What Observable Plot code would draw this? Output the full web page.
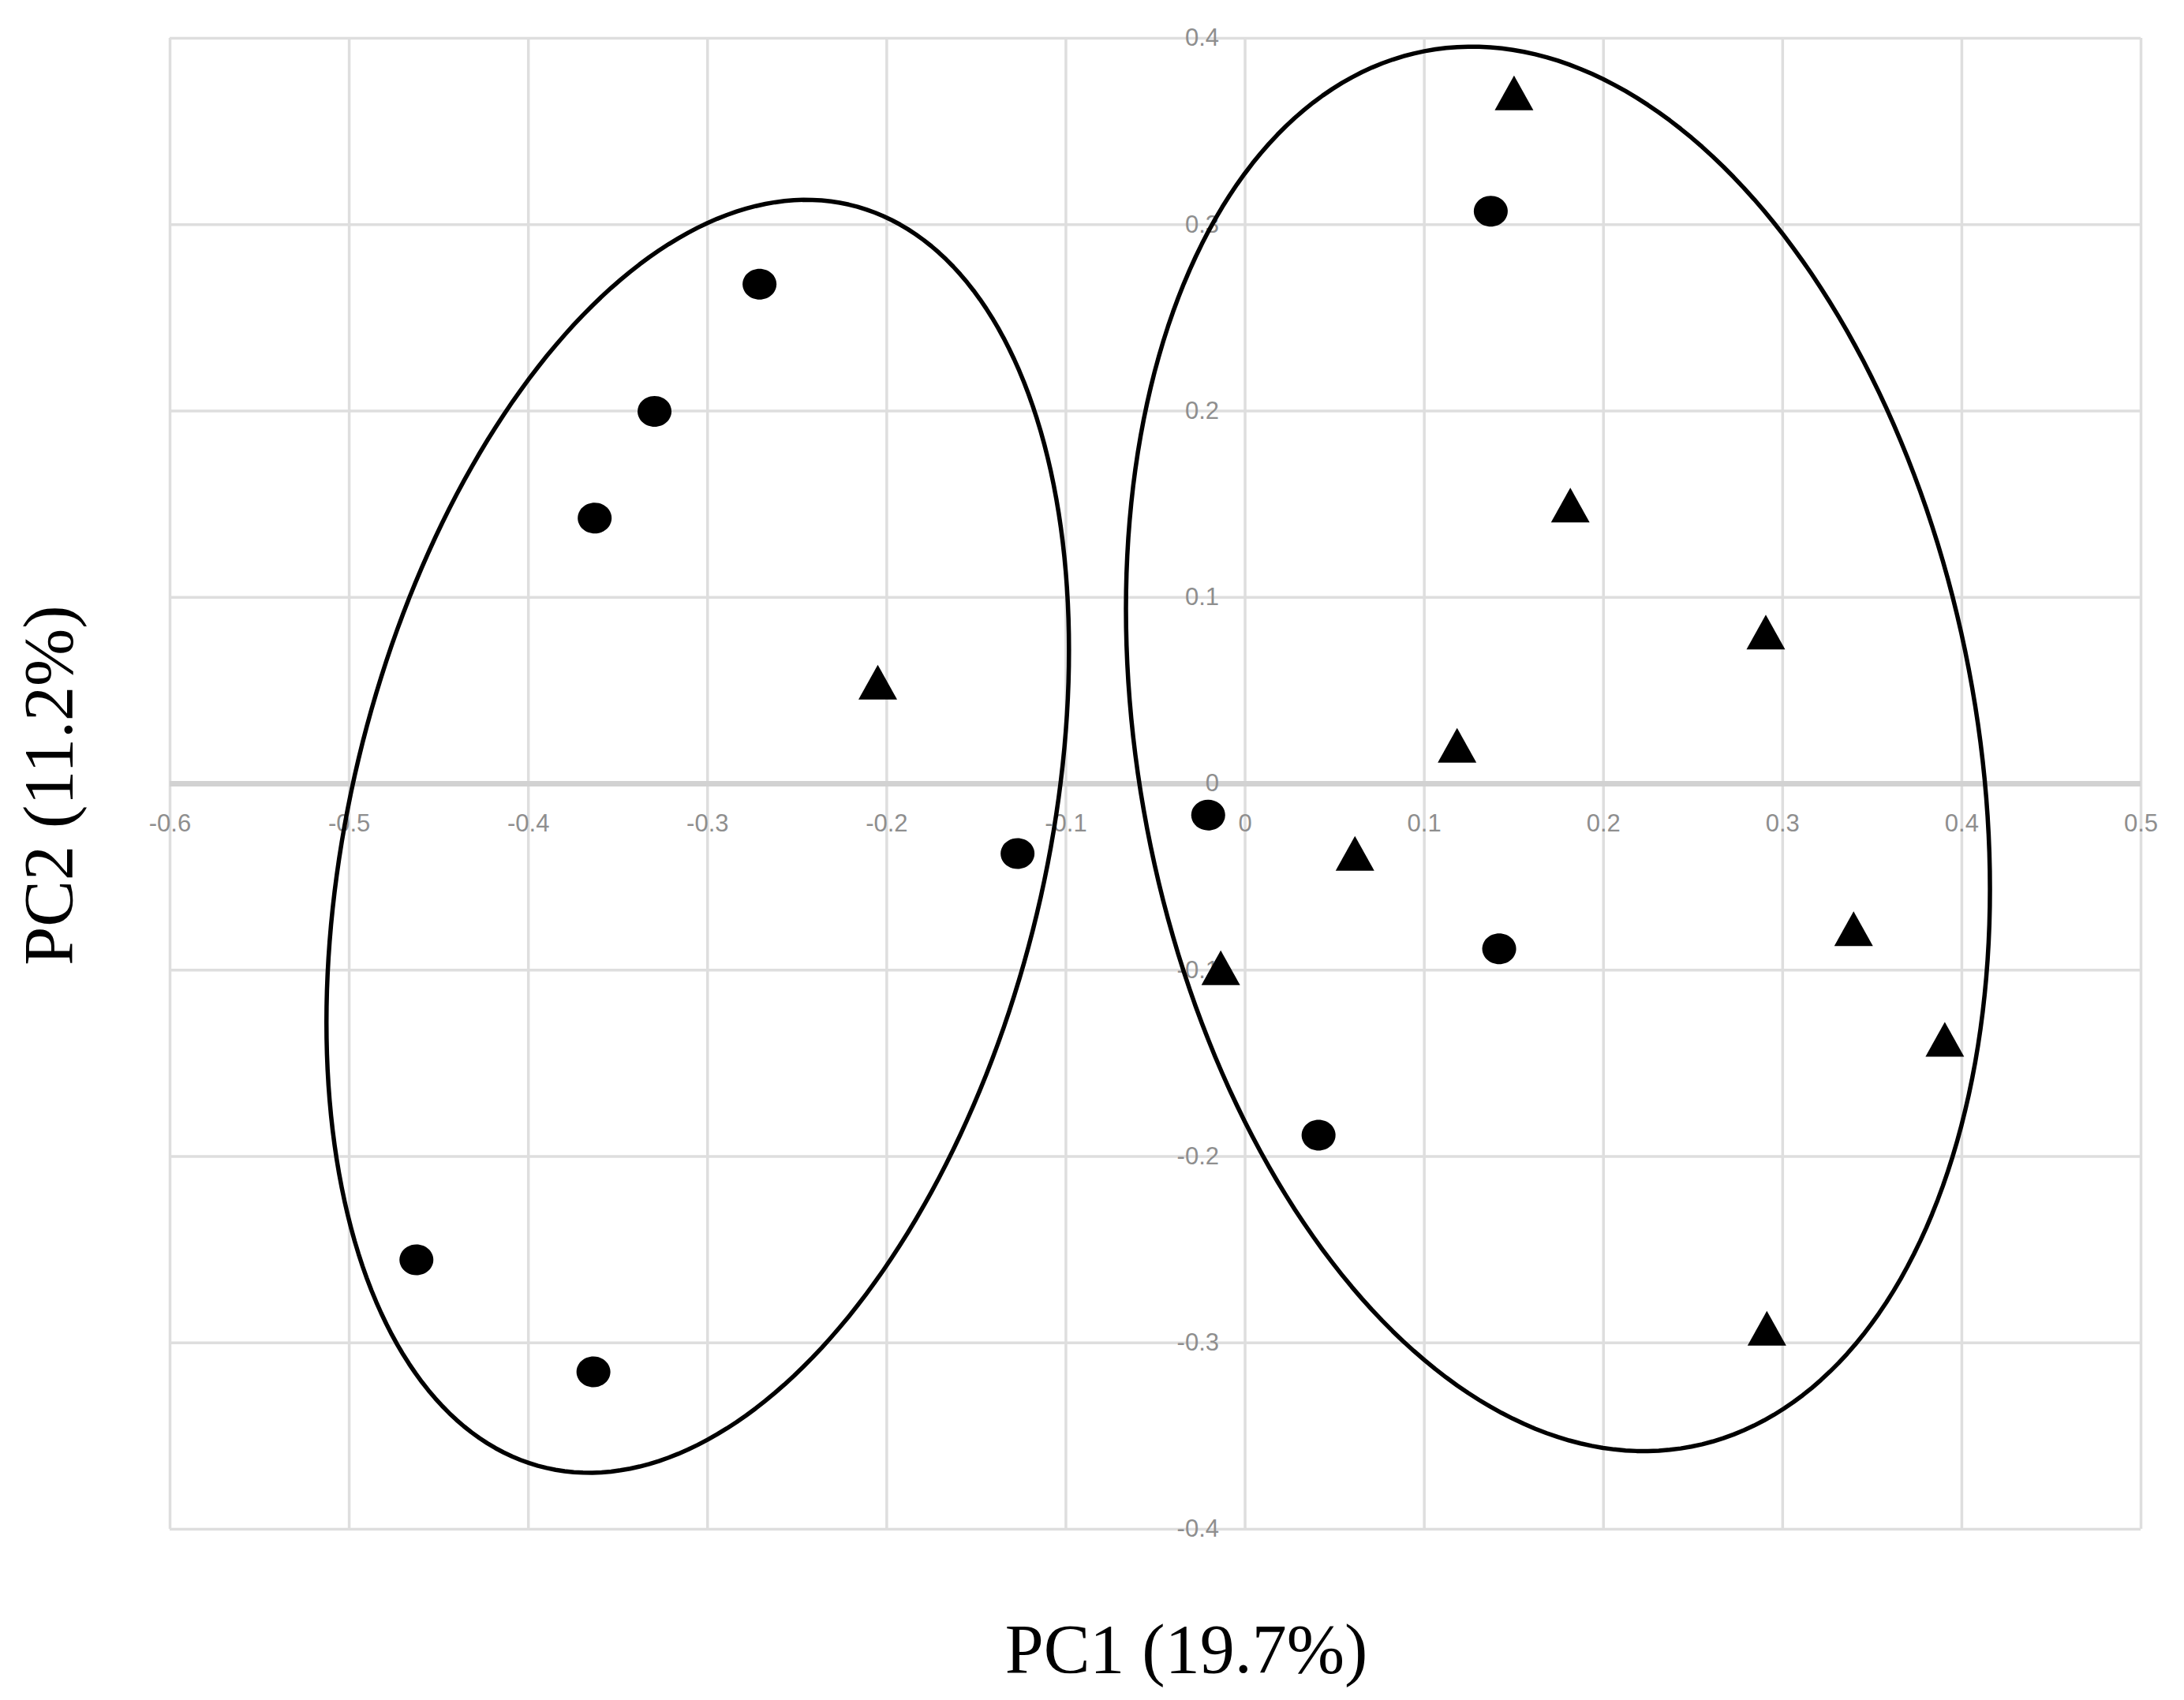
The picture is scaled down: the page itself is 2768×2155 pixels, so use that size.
<!DOCTYPE html>
<html>
<head>
<meta charset="utf-8">
<script src="https://cdn.jsdelivr.net/npm/d3@7"></script>
<script src="https://cdn.jsdelivr.net/npm/@observablehq/plot@0.6"></script>
<style>
  html, body { margin: 0; padding: 0; background: #ffffff; }
  #chart svg { display: block; }
</style>
</head>
<body>
<div id="chart"></div>
<script>
// ---- Data ----
const circleX = [-0.271, -0.3296, -0.363, -0.127, -0.4625, -0.3637, 0.1371, -0.0206, 0.1418, 0.041];
const circleY = [0.268, 0.1998, 0.1425, -0.0375, -0.2555, -0.3156, 0.3072, -0.0168, -0.0886, -0.1886];

const triangleX = [-0.205, 0.1501, 0.1815, 0.2906, 0.1183, 0.0613, -0.0136, 0.3396, 0.3905, 0.2912];
const triangleY = [0.0545, 0.3707, 0.1495, 0.0814, 0.0206, -0.0374, -0.0987, -0.0778, -0.1371, -0.2922];

// Group ellipses: centre, half-width, half-height, correlation (tilt)
const ellipseNames = ["left", "right"];
const ellipseCx = [-0.3055, 0.1746];
const ellipseCy = [-0.0282, 0.0187];
const ellipseRx = [0.2072, 0.2411];
const ellipseRy = [0.3415, 0.3768];
const ellipseRho = [0.2926, -0.1992];

const xTicks = [-0.6, -0.5, -0.4, -0.3, -0.2, -0.1, 0, 0.1, 0.2, 0.3, 0.4, 0.5];
const yTicks = [-0.4, -0.3, -0.2, -0.1, 0, 0.1, 0.2, 0.3, 0.4];
const xTitle = "PC1 (19.7%)";
const yTitle = "PC2 (11.2%)";

// ---- Derived tables ----
const circles = circleX.map((x, i) => ({x, y: circleY[i]}));
const triangles = triangleX.map((x, i) => ({x, y: triangleY[i]}));

const ellipsePts = [];
ellipseNames.forEach((name, k) => {
  const n = 240;
  const s = Math.sqrt(1 - ellipseRho[k] ** 2);
  for (let i = 0; i < n; i++) {
    const t = (2 * Math.PI * i) / n;
    ellipsePts.push({
      group: name,
      x: ellipseCx[k] + ellipseRx[k] * Math.cos(t),
      y: ellipseCy[k] + ellipseRy[k] * (ellipseRho[k] * Math.cos(t) + s * Math.sin(t))
    });
  }
});

// Custom marker shapes (slightly oval dot, triangle centred on its box)
const ovalSymbol = {
  draw(ctx, size) {
    const r = Math.sqrt(size / Math.PI);
    const rx = r * 1.075, ry = r * 0.975, k = 0.5523;
    ctx.moveTo(rx, 0);
    ctx.bezierCurveTo(rx, ry * k, rx * k, ry, 0, ry);
    ctx.bezierCurveTo(-rx * k, ry, -rx, ry * k, -rx, 0);
    ctx.bezierCurveTo(-rx, -ry * k, -rx * k, -ry, 0, -ry);
    ctx.bezierCurveTo(rx * k, -ry, rx, -ry * k, rx, 0);
    ctx.closePath();
  }
};
const triSymbol = {
  draw(ctx, size) {
    const r = Math.sqrt(size / Math.PI);
    const w = r * 2.45, h = r * 2.2;
    ctx.moveTo(0, -h / 2);
    ctx.lineTo(w / 2, h / 2);
    ctx.lineTo(-w / 2, h / 2);
    ctx.closePath();
  }
};

const tickFont = "'Liberation Sans', Arial, sans-serif";
const titleFont = "'Liberation Serif', 'Times New Roman', serif";
const tickColor = "#8e8e8e";
const gridColor = "#dedede";

const fmt = d => String(d);

const chart = Plot.plot({
  width: 2768,
  height: 2155,
  marginLeft: 215,
  marginRight: 55,
  marginTop: 48,
  marginBottom: 217,
  x: {domain: [-0.6, 0.5]},
  y: {domain: [-0.4, 0.4]},
  axis: null,
  style: {background: "#ffffff", overflow: "visible"},
  marks: [
    Plot.ruleX(xTicks, {stroke: gridColor, strokeWidth: 3.5}),
    Plot.ruleY(yTicks, {stroke: gridColor, strokeWidth: 3.5}),
    Plot.ruleY([0], {stroke: "#d2d2d2", strokeWidth: 7}),
    Plot.text(xTicks, {
      x: d => d, y: () => 0, text: fmt, dy: 51,
      fontSize: 31, fontFamily: tickFont, fill: tickColor, textAnchor: "middle", lineAnchor: "middle"
    }),
    Plot.text(yTicks, {
      x: () => 0, y: d => d, text: fmt, dx: -33,
      fontSize: 31, fontFamily: tickFont, fill: tickColor, textAnchor: "end", lineAnchor: "middle"
    }),
    Plot.line(ellipsePts, {
      x: "x", y: "y", z: "group", curve: "linear-closed",
      stroke: "#000000", strokeWidth: 5.5, fill: "none"
    }),
    Plot.dot(circles, {x: "x", y: "y", r: 20, symbol: ovalSymbol, fill: "#000000", stroke: "none"}),
    Plot.dot(triangles, {x: "x", y: "y", r: 20, symbol: triSymbol, fill: "#000000", stroke: "none"}),
    Plot.text([xTitle], {
      frameAnchor: "bottom", text: d => d, dx: 39, dy: 153, lineAnchor: "middle", textAnchor: "middle",
      fontSize: 88, fontFamily: titleFont, fill: "#000000"
    }),
    Plot.text([yTitle], {
      frameAnchor: "left", text: d => d, dx: -153, dy: 2, rotate: -90, lineAnchor: "middle", textAnchor: "middle",
      fontSize: 88, fontFamily: titleFont, fill: "#000000"
    })
  ]
});

document.getElementById("chart").appendChild(chart);
</script>
</body>
</html>
